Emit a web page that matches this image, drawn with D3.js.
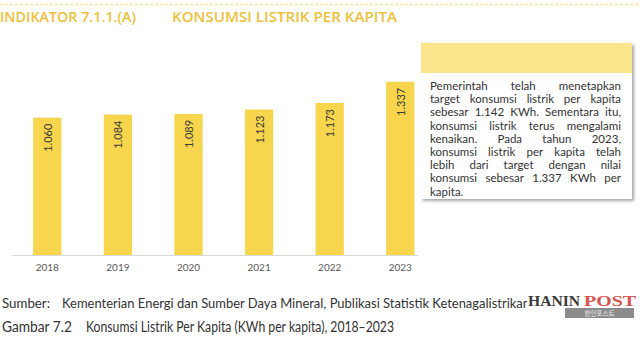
<!DOCTYPE html>
<html>
<head>
<meta charset="utf-8">
<script src="https://cdn.jsdelivr.net/npm/d3@7"></script>
<style>
  html, body { margin: 0; padding: 0; background: #fff; }
  svg { display: block; }
</style>
</head>
<body>
<svg id="chart" width="640" height="350"></svg>
<script>
// ---- data ----
const years = ["2018", "2019", "2020", "2021", "2022", "2023"];
const values = [1060, 1084, 1089, 1123, 1173, 1337];
const titleLeft = "INDIKATOR 7.1.1.(A)";
const titleRight = "KONSUMSI LISTRIK PER KAPITA";
const noteLines = [
  "Pemerintah telah menetapkan",
  "target konsumsi listrik per kapita",
  "sebesar 1.142 KWh. Sementara itu,",
  "konsumsi listrik terus mengalami",
  "kenaikan. Pada tahun 2023,",
  "konsumsi listrik per kapita telah",
  "lebih dari target dengan nilai",
  "konsumsi sebesar 1.337 KWh per",
  "kapita."
];
const sourceLabel = "Sumber:";
const sourceText = "Kementerian Energi dan Sumber Daya Mineral, Publikasi Statistik Ketenagalistrikan";
const figLabel = "Gambar 7.2";
const figText = "Konsumsi Listrik Per Kapita (KWh per kapita), 2018–2023";

const svg = d3.select("#chart");
const FONT = "Lato, 'Open Sans', sans-serif";
const TFONT = "'Open Sans', Lato, sans-serif";
const locale = d3.formatLocale({decimal: ",", thousands: ".", grouping: [3], currency: ["", ""]});
const fmt = locale.format(",d");

// top dashed line
svg.append("line").attr("x1", 0).attr("x2", 640).attr("y1", 4.5).attr("y2", 4.5)
  .attr("stroke", "#f7e6a0").attr("stroke-width", 1.5).attr("stroke-dasharray", "3,2");

// titles
svg.append("text").text(titleLeft).attr("x", 0).attr("y", 22)
  .attr("font-family", TFONT).attr("font-weight", 600).attr("font-size", 14)
  .attr("fill", "#efc13a").attr("textLength", 136).attr("lengthAdjust", "spacingAndGlyphs");
svg.append("text").text(titleRight).attr("x", 172).attr("y", 22)
  .attr("font-family", TFONT).attr("font-weight", 600).attr("font-size", 14)
  .attr("fill", "#efc13a").attr("textLength", 225).attr("lengthAdjust", "spacingAndGlyphs");

// scales
const x = d3.scaleBand().domain(years).range([12, 435.6]).paddingInner(0.6).paddingOuter(0.3);
const y = d3.scaleLinear().domain([0, 1400]).range([255, 73.6]);

// bars
svg.append("g").selectAll("rect").data(values).join("rect")
  .attr("x", (d, i) => x(years[i]))
  .attr("width", x.bandwidth())
  .attr("y", d => y(d))
  .attr("height", d => y(0) - y(d))
  .attr("fill", "#f7d54c");

// axis baseline
svg.append("line").attr("x1", 12).attr("x2", 418).attr("y1", y(0) + 0.5).attr("y2", y(0) + 0.5)
  .attr("stroke", "#d9d9d9").attr("stroke-width", 1);

// x axis labels
const xAxis = d3.axisBottom(x).tickSize(0).tickPadding(9);
const gx = svg.append("g").attr("transform", `translate(0,${y(0)})`).call(xAxis);
gx.select(".domain").remove();
gx.selectAll("text").attr("font-family", FONT).attr("font-size", 10).attr("fill", "#595959");

// value labels (rotated)
svg.append("g").selectAll("text").data(values).join("text")
  .attr("transform", (d, i) => `translate(${x(years[i]) + x.bandwidth() / 2},${y(d) + 6}) rotate(-90)`)
  .attr("text-anchor", "end").attr("dominant-baseline", "central")
  .attr("font-family", FONT).attr("font-size", 11).attr("fill", "#3a3a3a")
  .text(d => fmt(d));

// note box with shadow
const defs = svg.append("defs");
const f = defs.append("filter").attr("id", "sh").attr("x", "-10%").attr("y", "-10%").attr("width", "130%").attr("height", "130%");
f.append("feDropShadow").attr("dx", 2).attr("dy", 2).attr("stdDeviation", 1.5).attr("flood-color", "#000").attr("flood-opacity", 0.35);

const bx = 421, bw = 211, by = 43, bh = 156, hh = 30;
svg.append("rect").attr("x", bx).attr("y", by).attr("width", bw).attr("height", bh)
  .attr("fill", "#fff").attr("filter", "url(#sh)");
svg.append("rect").attr("x", bx).attr("y", by).attr("width", bw).attr("height", hh)
  .attr("fill", "#fbe68c");

// justified paragraph
const tx0 = 430, tx1 = 621, ty0 = 90, lh = 13.2;
const para = svg.append("g").attr("font-family", FONT).attr("font-size", 11.5).attr("fill", "#333");
noteLines.forEach((line, li) => {
  const words = line.split(" ");
  const yy = ty0 + li * lh;
  const nodes = words.map(w => para.append("text").text(w).attr("y", yy));
  const widths = nodes.map(n => n.node().getComputedTextLength());
  const total = d3.sum(widths);
  const last = li === noteLines.length - 1;
  const gap = (!last && words.length > 1) ? (tx1 - tx0 - total) / (words.length - 1) : 3;
  let cx = tx0;
  nodes.forEach((n, k) => { n.attr("x", cx); cx += widths[k] + gap; });
});

// captions
svg.append("text").text(sourceLabel).attr("x", 2).attr("y", 308)
  .attr("font-family", FONT).attr("font-size", 12.5).attr("fill", "#333")
  .attr("textLength", 48).attr("lengthAdjust", "spacingAndGlyphs");
svg.append("text").text(sourceText).attr("x", 62).attr("y", 308)
  .attr("font-family", FONT).attr("font-size", 12.5).attr("fill", "#333")
  .attr("textLength", 468).attr("lengthAdjust", "spacingAndGlyphs");
svg.append("text").text(figLabel).attr("x", 2).attr("y", 332)
  .attr("font-family", FONT).attr("font-size", 14.5).attr("fill", "#333")
  .attr("textLength", 70).attr("lengthAdjust", "spacingAndGlyphs");
svg.append("text").text(figText).attr("x", 86).attr("y", 332)
  .attr("font-family", FONT).attr("font-size", 14.5).attr("fill", "#333")
  .attr("textLength", 308).attr("lengthAdjust", "spacingAndGlyphs");

// watermark logo
const logo = svg.append("g");
logo.append("rect").attr("x", 527).attr("y", 291).attr("width", 110).attr("height", 17).attr("fill", "#fff");
logo.append("text").text("HANIN").attr("x", 528).attr("y", 306)
  .attr("font-family", "'Liberation Serif', serif").attr("font-weight", 700).attr("font-size", 15)
  .attr("fill", "#3a3a3a").attr("textLength", 52).attr("lengthAdjust", "spacingAndGlyphs");
logo.append("text").text("POST").attr("x", 584).attr("y", 306)
  .attr("font-family", "'Liberation Serif', serif").attr("font-weight", 700).attr("font-size", 15)
  .attr("fill", "#d9534f").attr("textLength", 52).attr("lengthAdjust", "spacingAndGlyphs");
logo.append("rect").attr("x", 565).attr("y", 308).attr("width", 69).attr("height", 10).attr("fill", "#8c8c8c");
logo.append("text").text("한인포스트").attr("x", 599.5).attr("y", 316)
  .attr("text-anchor", "middle").attr("font-family", "'Noto Sans CJK KR', sans-serif")
  .attr("font-size", 6.5).attr("fill", "#eee");
</script>
</body>
</html>
